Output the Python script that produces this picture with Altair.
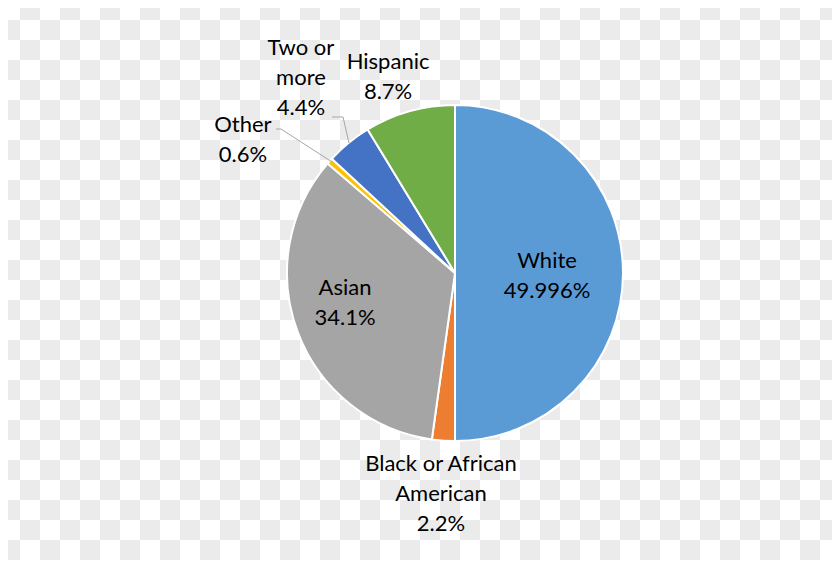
import altair as alt
import pandas as pd
import numpy as np

# ---- data ----
categories = ["White", "Black or African American", "Asian", "Other", "Two or more", "Hispanic"]
values = [49.996, 2.2, 34.1, 0.6, 4.4, 8.7]
pct_labels = ["49.996%", "2.2%", "34.1%", "0.6%", "4.4%", "8.7%"]
name_lines = ["White", "Black or African\nAmerican", "Asian", "Other", "Two or\nmore", "Hispanic"]
colors = ["#5B9BD5", "#ED7D31", "#A5A5A5", "#FFC000", "#4472C4", "#70AD47"]

# ---- layout (pixels, chart coordinates) ----
W, H = 824, 552
CX, CY = 447, 265
R = 168
# polar anchor (angle clockwise from 12 o'clock, radius) of each label's first line
label_angle_deg = [82.6, 184.2, 262.2, 304.9, 325.6, 342.4]
label_radius = [92.8, 191.5, 111, 258.6, 272.7, 221.4]
FONT = "Lato"
FS = 22

pie_df = pd.DataFrame({"category": categories, "value": values, "order": list(range(len(categories)))})

lab_df = pd.DataFrame({
    "label": [n + "\n" + p for n, p in zip(name_lines, pct_labels)],
    "ang": np.radians(label_angle_deg),
    "rad": label_radius,
})

# leader lines (page coordinates converted to chart coordinates)
leader_df = pd.DataFrame({
    "id": ["o", "o", "o", "t", "t", "t"],
    "k": [0, 1, 2, 0, 1, 2],
    "x": [276 - 8, 281 - 8, 332 - 8, 332 - 8, 343 - 8, 349 - 8],
    "y": [129 - 8, 129 - 8, 162 - 8, 117 - 8, 117 - 8, 143 - 8],
})

# checkerboard background (transparent-PNG look)
cells = []
for i in range(43):
    for j in range(30):
        if (i + j) % 2 == 1:
            cells.append({"x": i * 20 - 8, "x2": i * 20 + 12, "y": j * 20 - 8, "y2": j * 20 + 12})
bg_df = pd.DataFrame(cells)

bg = alt.Chart(bg_df).mark_rect(color="#EBEBEB", clip=True).encode(
    x=alt.X("x:Q", scale=None), x2="x2:Q",
    y=alt.Y("y:Q", scale=None), y2="y2:Q",
)

pie = alt.Chart(pie_df).mark_arc(outerRadius=R, stroke="white", strokeWidth=2).encode(
    theta=alt.Theta("value:Q", stack=True),
    order=alt.Order("order:Q"),
    color=alt.Color("category:N", scale=alt.Scale(domain=categories, range=colors), legend=None),
    x=alt.value(CX), y=alt.value(CY),
)

leaders = alt.Chart(leader_df).mark_line(color="#A6A6A6", strokeWidth=1).encode(
    x=alt.X("x:Q", scale=None),
    y=alt.Y("y:Q", scale=None),
    detail="id:N",
    order="k:Q",
)

labels = alt.Chart(lab_df).mark_text(
    font=FONT, fontSize=FS, color="#000000", lineBreak="\n", lineHeight=30,
    align="center", baseline="middle",
).encode(
    theta=alt.Theta("ang:Q", scale=None),
    radius=alt.Radius("rad:Q", scale=None),
    text="label:N",
    x=alt.value(CX), y=alt.value(CY),
)

chart = alt.layer(bg, pie, leaders, labels).properties(
    width=W, height=H, padding=0, autosize=alt.AutoSizeParams(type="none"),
    background="white",
).configure_view(stroke=None)

chart.save("out.html", embed_options={"renderer": "svg", "actions": False})
